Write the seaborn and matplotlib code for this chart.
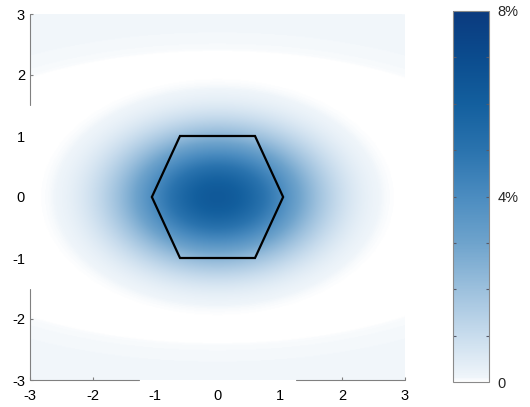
import numpy as np
import matplotlib
matplotlib.use("Agg")
import matplotlib.pyplot as plt
from matplotlib.colors import LinearSegmentedColormap
import seaborn as sns

# Central lobe: value at the centre (percent) and where it falls to zero
peak_pct = 6.3
lobe_zero_x = 3.0
lobe_zero_y = 2.05

# Faint outer band: level (percent), semi-axes of its crest and half-width
band_pct = 0.085
band_ax = 6.5
band_ay = 3.0
band_halfwidth = 0.2

# Hexagon outline
hex_x = [-1.05, -0.6, 0.6, 1.05, 0.6, -0.6, -1.05]
hex_y = [0.0, 1.0, 1.0, 0.0, -1.0, -1.0, 0.0]

# Axis ticks
axis_ticks = [-3, -2, -1, 0, 1, 2, 3]
cbar_ticks = [0, 4, 8]
cbar_labels = ["0", "4%", "8%"]
cbar_minor = [1, 2, 3, 5, 6, 7]

sns.set_theme(style="white")
plt.rcParams["font.family"] = ["Liberation Sans", "DejaVu Sans"]

# Colour ramp from white to deep navy
ramp_pos = [0.0, 0.012, 0.125, 0.25, 0.375, 0.5, 0.625, 0.75, 0.875, 1.0]
ramp_col = ["#ffffff", "#eff5fa", "#c8dced", "#9cc0dd", "#6ea3cc", "#4b8cc0",
            "#2a73ae", "#135f9e", "#0b4c8e", "#0b3a7e"]
cmap = LinearSegmentedColormap.from_list("ramp", list(zip(ramp_pos, ramp_col)), N=512)

n = 400
xs = np.linspace(-3, 3, n)
ys = np.linspace(-3, 3, n)
X, Y = np.meshgrid(xs, ys)

# Airy-type main lobe, cut at its first zero
v = 3.8317 * np.sqrt((X / lobe_zero_x) ** 2 + (Y / lobe_zero_y) ** 2)
tau = np.linspace(0, np.pi, 241)
j1 = np.zeros_like(v)
w = np.full(tau.size, tau[1] - tau[0]); w[0] *= 0.5; w[-1] *= 0.5
for t, wt in zip(tau, w):
    j1 += wt * np.cos(t - v * np.sin(t))
j1 /= np.pi
with np.errstate(invalid="ignore", divide="ignore"):
    amp = np.where(v > 1e-9, 2 * j1 / v, 1.0)
lobe = np.where(v < 3.8317, amp ** 2, 0.0)

# Outer elliptical band
rho = np.sqrt((X / band_ax) ** 2 + (Y / band_ay) ** 2)
band = np.clip(1 - ((rho - 1) / band_halfwidth) ** 2, 0, None) ** 0.3

Z = peak_pct * lobe + band_pct * band

fig = plt.figure(figsize=(5.30, 4.07), dpi=100)
ax = fig.add_axes([30 / 530, 1 - 380 / 407, 375 / 530, 366 / 407])
cax = fig.add_axes([453 / 530, 1 - 382 / 407, 36 / 530, 371 / 407])

im = ax.imshow(Z, extent=[-3, 3, -3, 3], origin="lower", cmap=cmap,
               vmin=0, vmax=8, interpolation="bilinear", aspect="auto")
ax.plot(hex_x, hex_y, color="black", lw=1.6, solid_joinstyle="miter")

ax.set_xlim(-3, 3)
ax.set_ylim(-3, 3)
for s in ax.spines.values():
    s.set_visible(False)
ax.set_xticks(axis_ticks)
ax.set_yticks(axis_ticks)
ax.set_xticklabels([str(t) for t in axis_ticks])
ax.set_yticklabels([str(t) for t in axis_ticks])
ax.tick_params(axis="x", length=0, pad=6.5, labelsize=10.5, colors="black")
ax.tick_params(axis="y", length=0, pad=3.6, labelsize=10.5, colors="black")

# Axis line segments with inward ticks
spine_kw = dict(color="#808080", lw=0.8, clip_on=False, zorder=5)
ax.plot([-3, -3], [1.5, 3], **spine_kw)
ax.plot([-3, -3], [-3, -1.5], **spine_kw)
ax.plot([-3, -1.25], [-3, -3], **spine_kw)
ax.plot([1.25, 3], [-3, -3], **spine_kw)
tick_kw = dict(color="#808080", ls="none", ms=2.4, mew=0.8, clip_on=False, zorder=5)
ax.plot([-3, -3, -3, -3], [3, 2, -2, -3], marker=1, **tick_kw)
ax.plot([-3, -2, 2, 3], [-3, -3, -3, -3], marker=2, **tick_kw)

cb = fig.colorbar(im, cax=cax)
cb.set_ticks(cbar_ticks)
cb.set_ticklabels(cbar_labels)
cb.outline.set_edgecolor("#8a8a8a")
cb.outline.set_linewidth(0.8)
cax.tick_params(axis="y", which="major", length=0, pad=6, labelsize=10.5)
for yv in cbar_minor + cbar_ticks[1:2]:
    cax.plot([0], [yv], marker=1, ms=2.4, mew=0.8, color="#555a6a",
             transform=cax.get_yaxis_transform(), clip_on=False)
    cax.plot([1], [yv], marker=0, ms=2.4, mew=0.8, color="#555a6a",
             transform=cax.get_yaxis_transform(), clip_on=False)

fig.savefig("out.png", dpi=100)
